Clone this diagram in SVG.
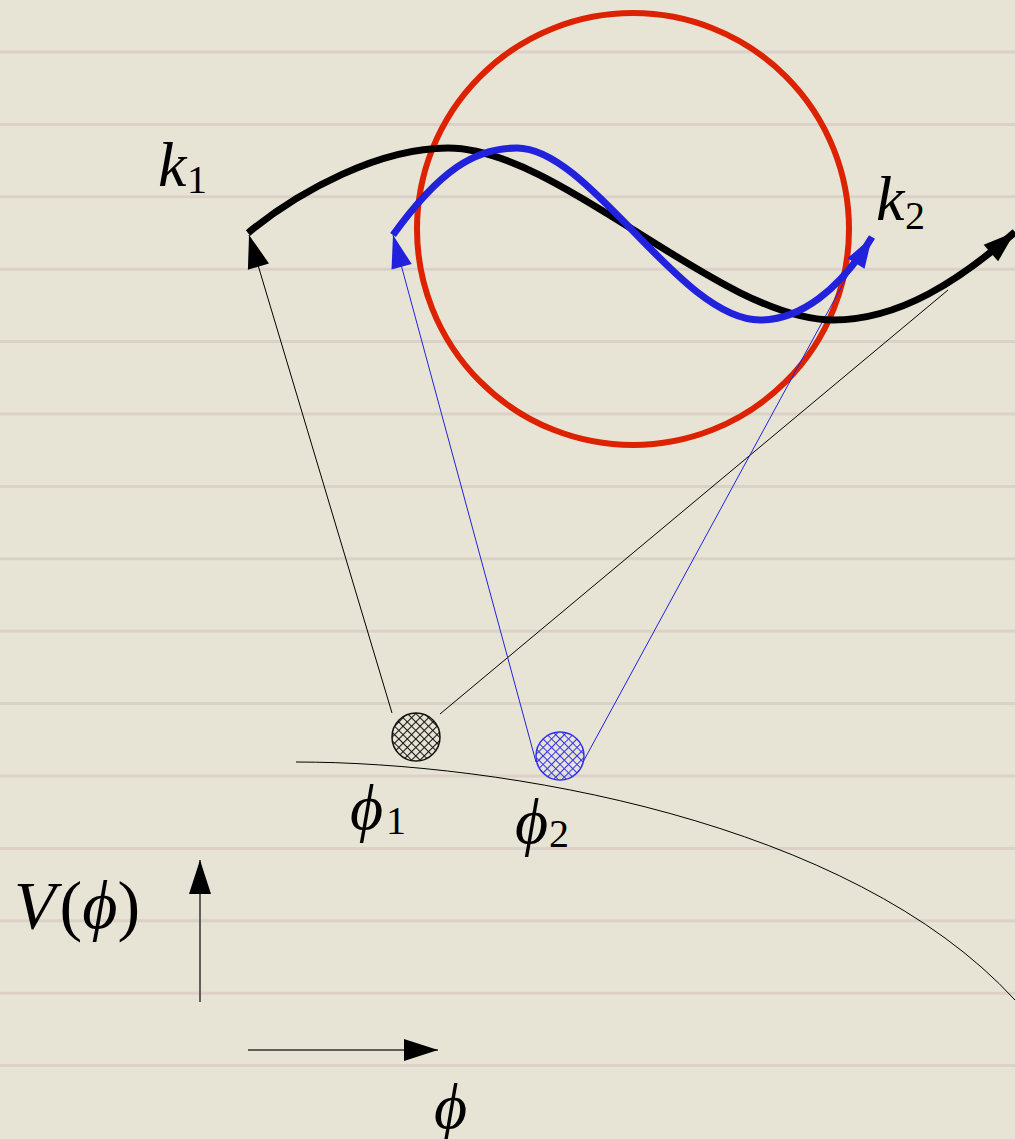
<svg xmlns="http://www.w3.org/2000/svg" width="1015" height="1139" viewBox="0 0 1015 1139">
<style>
.rule{stroke:#d6cac2;stroke-width:3;opacity:0.7}
.thin{fill:none;stroke-width:1}
.tex{font-family:"Liberation Serif","DejaVu Serif",serif;font-style:italic;fill:#000}
.num{font-family:"Liberation Serif","DejaVu Serif",serif;font-style:normal;fill:#000}
.axis{stroke:#333;stroke-width:1.5;fill:none}
</style>
<defs>
<marker id="ahK" markerUnits="userSpaceOnUse" viewBox="-34 -12 36 24" markerWidth="36" markerHeight="24" refX="0" refY="0" orient="auto"><path d="M0,0 L-33,-11 L-33,11 Z" fill="#000"/></marker>
<marker id="ahB" markerUnits="userSpaceOnUse" viewBox="-34 -12 36 24" markerWidth="36" markerHeight="24" refX="0" refY="0" orient="auto"><path d="M0,0 L-33,-10.5 L-33,10.5 Z" fill="#2222dd"/></marker>
<marker id="ahK2" markerUnits="userSpaceOnUse" viewBox="-34 -12 36 24" markerWidth="36" markerHeight="24" refX="0" refY="0" orient="auto"><path d="M0,0 L-32,-11 L-32,11 Z" fill="#000"/></marker>
<marker id="ahB2" markerUnits="userSpaceOnUse" viewBox="-34 -12 36 24" markerWidth="36" markerHeight="24" refX="0" refY="0" orient="auto"><path d="M0,0 L-31,-10 L-31,10 Z" fill="#2222dd"/></marker>
<marker id="ahA" markerUnits="userSpaceOnUse" viewBox="-36 -12 38 24" markerWidth="38" markerHeight="24" refX="0" refY="0" orient="auto"><path d="M0,0 L-34,-11 L-34,11 Z" fill="#000"/></marker>
<pattern id="hatchK" patternUnits="userSpaceOnUse" width="6" height="6" patternTransform="rotate(45)"><path d="M0,0.5 H6 M0.5,0 V6" stroke="#111" stroke-width="1.1"/></pattern>
<pattern id="hatchB" patternUnits="userSpaceOnUse" width="6" height="6" patternTransform="rotate(45)"><path d="M0,0.5 H6 M0.5,0 V6" stroke="#3333ee" stroke-width="1.1"/></pattern>
</defs>
<rect width="1015" height="1139" fill="#e8e4d5"/>
<g id="paper-rules">
<line class="rule" x1="0" y1="52" x2="1015" y2="52"/>
<line class="rule" x1="0" y1="124.4" x2="1015" y2="124.4"/>
<line class="rule" x1="0" y1="196.8" x2="1015" y2="196.8"/>
<line class="rule" x1="0" y1="269.2" x2="1015" y2="269.2"/>
<line class="rule" x1="0" y1="341.6" x2="1015" y2="341.6"/>
<line class="rule" x1="0" y1="414" x2="1015" y2="414"/>
<line class="rule" x1="0" y1="486.4" x2="1015" y2="486.4"/>
<line class="rule" x1="0" y1="558.8" x2="1015" y2="558.8"/>
<line class="rule" x1="0" y1="631.2" x2="1015" y2="631.2"/>
<line class="rule" x1="0" y1="703.6" x2="1015" y2="703.6"/>
<line class="rule" x1="0" y1="776" x2="1015" y2="776"/>
<line class="rule" x1="0" y1="848.4" x2="1015" y2="848.4"/>
<line class="rule" x1="0" y1="920.8" x2="1015" y2="920.8"/>
<line class="rule" x1="0" y1="993.2" x2="1015" y2="993.2"/>
<line class="rule" x1="0" y1="1065.6" x2="1015" y2="1065.6"/>
</g>
<g id="potential">
<path d="M296,762 C500,762 850,820 1015,1000" fill="none" stroke="#000" stroke-width="1"/>
</g>
<g id="horizon-circle">
<circle cx="633" cy="229" r="216" fill="none" stroke="#dd2200" stroke-width="6"/>
</g>
<g id="connectors">
<line class="thin" x1="392" y1="713" x2="249" y2="235" stroke="#000" marker-end="url(#ahK)"/>
<line class="thin" x1="440" y1="714" x2="948" y2="290" stroke="#000"/>
<line class="thin" x1="536" y1="762" x2="393" y2="235" stroke="#2222dd" marker-end="url(#ahB)"/>
<line class="thin" x1="583" y1="762" x2="856" y2="260" stroke="#2222dd"/>
</g>
<g id="mode-k1">
<path d="M248,233 C300,190 380,148 448,148 C560,148 720,320 833,320 C900,320 960,280 1015,232" fill="none" stroke="#000" stroke-width="7" marker-end="url(#ahK2)"/>
</g>
<g id="mode-k2">
<path d="M393,235 C440,170 475,148 517,148 C590,148 680,320 760,320 C800,320 840,290 872,237" fill="none" stroke="#2222dd" stroke-width="7" marker-end="url(#ahB2)"/>
</g>
<g id="phi1-ball">
<circle cx="416" cy="737" r="24" fill="url(#hatchK)" stroke="#111" stroke-width="1.5"/>
</g>
<g id="phi2-ball">
<circle cx="560" cy="756" r="24" fill="url(#hatchB)" stroke="#3333ee" stroke-width="1.5"/>
</g>
<g id="axes">
<line class="axis" x1="200" y1="1002" x2="200" y2="860" marker-end="url(#ahA)"/>
<line class="axis" x1="248" y1="1050" x2="438" y2="1050" marker-end="url(#ahA)"/>
</g>
<g id="labels">
<text class="tex" x="158" y="186" font-size="64">k</text><text class="num" x="187" y="193" font-size="40">1</text>
<text class="tex" x="876" y="220" font-size="64">k</text><text class="num" x="905" y="229" font-size="40">2</text>
<text class="tex" x="350" y="829" font-size="64">ϕ</text><text class="num" x="386" y="834" font-size="40">1</text>
<text class="tex" x="515" y="843" font-size="64">ϕ</text><text class="num" x="549" y="847" font-size="40">2</text>
<text class="tex" x="14" y="928" font-size="68">V<tspan class="num" dx="4">(</tspan>ϕ<tspan class="num">)</tspan></text>
<text class="tex" x="434" y="1128" font-size="64">ϕ</text>
</g>
</svg>
